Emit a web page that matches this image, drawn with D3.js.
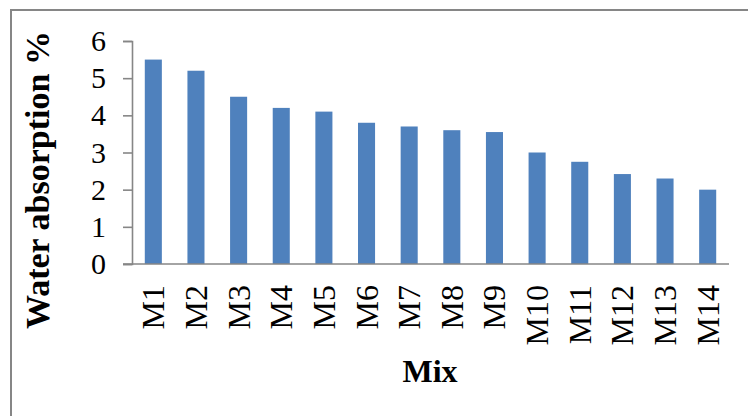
<!DOCTYPE html>
<html>
<head>
<meta charset="utf-8">
<script src="https://cdn.jsdelivr.net/npm/d3@7"></script>
<style>
  html, body { margin: 0; padding: 0; background: #fff; }
  svg { display: block; font-family: "Liberation Serif", "Times New Roman", serif; }
</style>
</head>
<body>
<svg id="chart" width="748" height="416"></svg>
<script>
// Water absorption per mix
const mixes = ["M1", "M2", "M3", "M4", "M5", "M6", "M7", "M8", "M9", "M10", "M11", "M12", "M13", "M14"];
const absorption = [5.5, 5.2, 4.5, 4.2, 4.1, 3.8, 3.7, 3.6, 3.55, 3.0, 2.75, 2.42, 2.3, 2.0];
const yTicks = [0, 1, 2, 3, 4, 5, 6];

const svg = d3.select("#chart");
const axisColor = "#868686";
const barColor = "#4F81BD";

// Outer chart frame (only top and left edges fall inside the view)
svg.append("rect")
  .attr("x", 11).attr("y", 10)
  .attr("width", 760).attr("height", 440)
  .attr("fill", "none")
  .attr("stroke", axisColor)
  .attr("stroke-width", 2);

const plot = { left: 132, right: 729, top: 41, bottom: 264 };

const x = d3.scaleBand()
  .domain(mixes)
  .range([plot.left, plot.right])
  .paddingInner(0.6)
  .paddingOuter(0.3);

const y = d3.scaleLinear()
  .domain([0, 6])
  .range([plot.bottom, plot.top]);

// Bars
svg.append("g")
  .selectAll("rect")
  .data(mixes.map((m, i) => ({ m, v: absorption[i] })))
  .join("rect")
  .attr("x", d => x(d.m))
  .attr("width", x.bandwidth())
  .attr("y", d => y(d.v))
  .attr("height", d => y(0) - y(d.v))
  .attr("fill", barColor);

// Y axis
const yAxis = svg.append("g")
  .attr("transform", `translate(${plot.left},0)`)
  .call(d3.axisLeft(y).tickValues(yTicks).tickFormat(d3.format("d")).tickSize(9).tickPadding(17));
yAxis.select(".domain").attr("stroke", axisColor).attr("stroke-width", 1.6);
yAxis.selectAll(".tick line").attr("stroke", axisColor).attr("stroke-width", 1.6);
yAxis.selectAll(".tick text")
  .attr("fill", "#000")
  .attr("font-size", 30)
  .attr("font-family", "Liberation Serif, serif");

// X axis baseline
const xAxis = svg.append("g")
  .attr("transform", `translate(0,${plot.bottom})`)
  .call(d3.axisBottom(x).tickSize(0).tickPadding(0));
xAxis.select(".domain").attr("stroke", axisColor).attr("stroke-width", 1.6)
  .attr("d", `M${plot.left - 9},0H${plot.right}`);
xAxis.selectAll(".tick text")
  .attr("fill", "#000")
  .attr("font-size", 32)
  .attr("font-family", "Liberation Serif, serif")
  .attr("text-anchor", "end")
  .attr("dy", null)
  .attr("y", 0)
  .attr("transform", "translate(11,21) rotate(-90)");

// Axis titles
svg.append("text")
  .attr("transform", "translate(49,180) rotate(-90)")
  .attr("text-anchor", "middle")
  .attr("font-size", 34)
  .attr("font-weight", "bold")
  .text("Water absorption %");

svg.append("text")
  .attr("x", 430).attr("y", 382)
  .attr("text-anchor", "middle")
  .attr("font-size", 32)
  .attr("font-weight", "bold")
  .text("Mix");
</script>
</body>
</html>
